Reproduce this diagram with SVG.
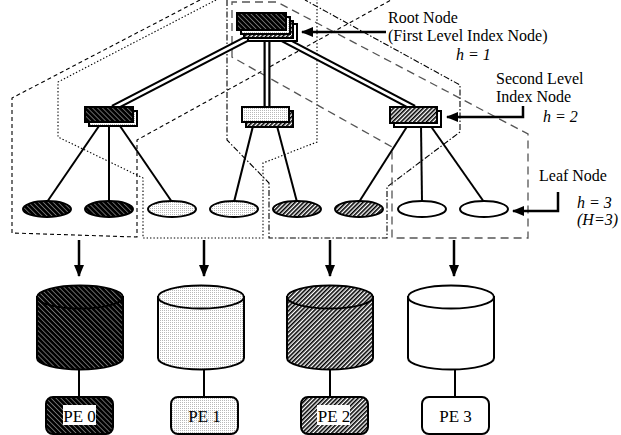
<svg xmlns="http://www.w3.org/2000/svg" width="621" height="435" viewBox="0 0 621 435">
  <defs>
    <!-- dark fill: black with fine white diagonal stripes -->
    <pattern id="pe0" patternUnits="userSpaceOnUse" width="3.5" height="3.5" patternTransform="rotate(45)">
      <rect width="3.5" height="3.5" fill="#000"/>
      <rect y="0" width="3.5" height="0.4" fill="#fff"/>
    </pattern>
    <!-- light fill: fine grey stipple -->
    <pattern id="pe1" patternUnits="userSpaceOnUse" width="2" height="2">
      <rect width="2" height="2" fill="#fff"/>
      <rect width="1" height="1" fill="#b8b8b8"/>
    </pattern>
    <!-- medium fill: black diagonal hatching on white -->
    <pattern id="pe2" patternUnits="userSpaceOnUse" width="3" height="3" patternTransform="rotate(-45)">
      <rect width="3" height="3" fill="#fff"/>
      <rect y="0" width="3" height="1.6" fill="#000"/>
    </pattern>
    <marker id="head" markerUnits="userSpaceOnUse" markerWidth="12" markerHeight="10" refX="11" refY="5" orient="auto">
      <path d="M0,0 L12,5 L0,10 Z" fill="#000"/>
    </marker>
  </defs>
  <style>
    .box { stroke: #000; stroke-width: 2; }
    .edge { stroke: #000; stroke-width: 2; fill: none; }
    .dbl-o { stroke: #000; stroke-width: 7; fill: none; }
    .dbl-i { stroke: #fff; stroke-width: 2.6; fill: none; }
    .region { fill: none; stroke-width: 1.1; }
    .r0 { stroke: #000; stroke-dasharray: 4 3; }
    .r1 { stroke: #000; stroke-dasharray: 1.4 2; }
    .r2 { stroke: #000; stroke-dasharray: 6 2 1.5 2; }
    .r3 { stroke: #555; stroke-dasharray: 8 5; stroke-width: 1.3; }
    .ptr { stroke: #000; stroke-width: 2.5; fill: none; marker-end: url(#head); }
    .serif { font-family: "Times New Roman", "Liberation Serif", "DejaVu Serif", serif; }
    .lbl { font-size: 16px; fill: #000; }
    .it { font-style: italic; }
    .pe { font-size: 17px; text-anchor: middle; fill: #000; }
  </style>

  <!-- partition outlines, one per PE -->
  <g id="partitions">
    <polyline class="region r0" points="200,0 12,98 12,233 137,237 137,140 391,0"/>
    <polyline class="region r1" points="216,0 58,82 58,137 143,178 143,238 263,238 263,163 317,142 317,0"/>
    <polyline class="region r2" points="227,0 227,140 269,183 269,238 387,238 387,187 460,132 460,85 305,0"/>
    <polygon class="region r3" points="232,57 232,2 277,2 528,134 528,238 392,238 392,147"/>
  </g>

  <!-- connectors -->
  <g id="connectors">
    <!-- root to second level (double lines) -->
    <line class="dbl-o" x1="252" y1="36" x2="113" y2="108"/>
    <line class="dbl-i" x1="252" y1="36" x2="113" y2="108"/>
    <line class="dbl-o" x1="267" y1="38" x2="267" y2="108"/>
    <line class="dbl-i" x1="267" y1="38" x2="267" y2="108"/>
    <line class="dbl-o" x1="279" y1="37" x2="414" y2="108"/>
    <line class="dbl-i" x1="279" y1="37" x2="414" y2="108"/>
    <!-- second level to leaves -->
    <line class="edge" x1="99" y1="126" x2="47" y2="202"/>
    <line class="edge" x1="109" y1="126" x2="109" y2="202"/>
    <line class="edge" x1="120" y1="126" x2="172" y2="202"/>
    <line class="edge" x1="253" y1="126" x2="234" y2="202"/>
    <line class="edge" x1="277" y1="126" x2="297" y2="202"/>
    <line class="edge" x1="408" y1="125" x2="359" y2="202"/>
    <line class="edge" x1="421" y1="125" x2="422" y2="202"/>
    <line class="edge" x1="430" y1="125" x2="484" y2="202"/>
    <!-- leaves to disks -->
    <line class="ptr" x1="79" y1="240" x2="79" y2="276"/>
    <line class="ptr" x1="204" y1="240" x2="204" y2="276"/>
    <line class="ptr" x1="330" y1="240" x2="330" y2="276"/>
    <line class="ptr" x1="454" y1="240" x2="454" y2="276"/>
    <!-- disks to PEs -->
    <line class="edge" x1="79" y1="369" x2="79" y2="397"/>
    <line class="edge" x1="204" y1="369" x2="204" y2="397"/>
    <line class="edge" x1="330" y1="369" x2="330" y2="397"/>
    <line class="edge" x1="455" y1="369" x2="455" y2="397"/>
    <!-- label pointers -->
    <polyline class="ptr" points="386,32 302,32"/>
    <polyline class="ptr" points="523,106 523,117 447,117"/>
    <polyline class="ptr" points="558,192 558,211 513,211"/>
  </g>

  <!-- root node, replicated on all PEs -->
  <g id="root">
    <rect class="box" x="248" y="24" width="49" height="17" fill="#fff"/>
    <rect class="box" x="244" y="21" width="49" height="17" fill="url(#pe2)"/>
    <rect class="box" x="241" y="17" width="49" height="17" fill="url(#pe1)"/>
    <rect class="box" x="237" y="13" width="49" height="17" fill="url(#pe0)"/>
  </g>

  <!-- second level index nodes -->
  <g id="idx-left">
    <rect class="box" x="89" y="111" width="48" height="15" fill="url(#pe1)"/>
    <rect class="box" x="85" y="107" width="48" height="15" fill="url(#pe0)"/>
  </g>
  <g id="idx-mid">
    <rect class="box" x="246" y="111" width="47" height="16" fill="url(#pe2)"/>
    <rect class="box" x="242" y="107" width="47" height="15" fill="url(#pe1)"/>
  </g>
  <g id="idx-right">
    <rect class="box" x="394" y="111" width="47" height="16" fill="#fff"/>
    <rect class="box" x="390" y="107" width="47" height="16" fill="url(#pe2)"/>
  </g>

  <!-- leaf nodes -->
  <g id="leaf-1"><ellipse class="box" cx="47" cy="209" rx="24" ry="8" fill="url(#pe0)"/></g>
  <g id="leaf-2"><ellipse class="box" cx="109" cy="209" rx="24" ry="8" fill="url(#pe0)"/></g>
  <g id="leaf-3"><ellipse class="box" cx="172" cy="209" rx="24" ry="8" fill="url(#pe1)"/></g>
  <g id="leaf-4"><ellipse class="box" cx="234" cy="209" rx="24" ry="8" fill="url(#pe1)"/></g>
  <g id="leaf-5"><ellipse class="box" cx="297" cy="209" rx="24" ry="8" fill="url(#pe2)"/></g>
  <g id="leaf-6"><ellipse class="box" cx="359" cy="209" rx="24" ry="8" fill="url(#pe2)"/></g>
  <g id="leaf-7"><ellipse class="box" cx="422" cy="209" rx="24" ry="8" fill="#fff"/></g>
  <g id="leaf-8"><ellipse class="box" cx="484" cy="209" rx="24" ry="8" fill="#fff"/></g>

  <!-- disks -->
  <g id="disk-0">
    <path class="box" d="M37,297 L37,358 A43,11.5 0 0 0 123,358 L123,297 Z" fill="url(#pe0)"/>
    <ellipse class="box" cx="80" cy="297" rx="43" ry="11.5" fill="url(#pe0)"/>
  </g>
  <g id="disk-1">
    <path class="box" d="M158,297 L158,358 A43,11.5 0 0 0 244,358 L244,297 Z" fill="url(#pe1)"/>
    <ellipse class="box" cx="201" cy="297" rx="43" ry="11.5" fill="url(#pe1)"/>
  </g>
  <g id="disk-2">
    <path class="box" d="M287,297 L287,358 A43,11.5 0 0 0 373,358 L373,297 Z" fill="url(#pe2)"/>
    <ellipse class="box" cx="330" cy="297" rx="43" ry="11.5" fill="url(#pe2)"/>
  </g>
  <g id="disk-3">
    <path class="box" d="M408,297 L408,358 A43,11.5 0 0 0 494,358 L494,297 Z" fill="#fff"/>
    <ellipse class="box" cx="451" cy="297" rx="43" ry="11.5" fill="#fff"/>
  </g>

  <!-- processing elements -->
  <g class="serif">
    <g id="pe-0">
      <rect class="box" x="46" y="397" width="67" height="37" rx="7" fill="url(#pe0)"/>
      <rect x="63" y="405" width="33" height="20" fill="#fff"/>
      <text class="pe" x="79.5" y="422">PE 0</text>
    </g>
    <g id="pe-1">
      <rect class="box" x="171" y="397" width="67" height="37" rx="7" fill="url(#pe1)"/>
      <text class="pe" x="204.5" y="422">PE 1</text>
    </g>
    <g id="pe-2">
      <rect class="box" x="301" y="397" width="67" height="37" rx="7" fill="url(#pe2)"/>
      <rect x="317" y="405" width="33" height="20" fill="#fff"/>
      <text class="pe" x="334" y="422">PE 2</text>
    </g>
    <g id="pe-3">
      <rect class="box" x="422" y="397" width="67" height="37" rx="7" fill="#fff"/>
      <text class="pe" x="455.5" y="422">PE 3</text>
    </g>
  </g>

  <!-- level labels -->
  <g id="labels" class="serif">
    <text class="lbl" x="388" y="23">Root Node</text>
    <text class="lbl" x="388" y="41">(First Level Index Node)</text>
    <text class="lbl it" x="456" y="60">h = 1</text>
    <text class="lbl" x="496" y="84">Second Level</text>
    <text class="lbl" x="496" y="102">Index Node</text>
    <text class="lbl it" x="543" y="122">h = 2</text>
    <text class="lbl" x="539" y="181">Leaf Node</text>
    <text class="lbl it" x="577" y="208">h = 3</text>
    <text class="lbl it" x="577" y="225">(H=3)</text>
  </g>
</svg>
